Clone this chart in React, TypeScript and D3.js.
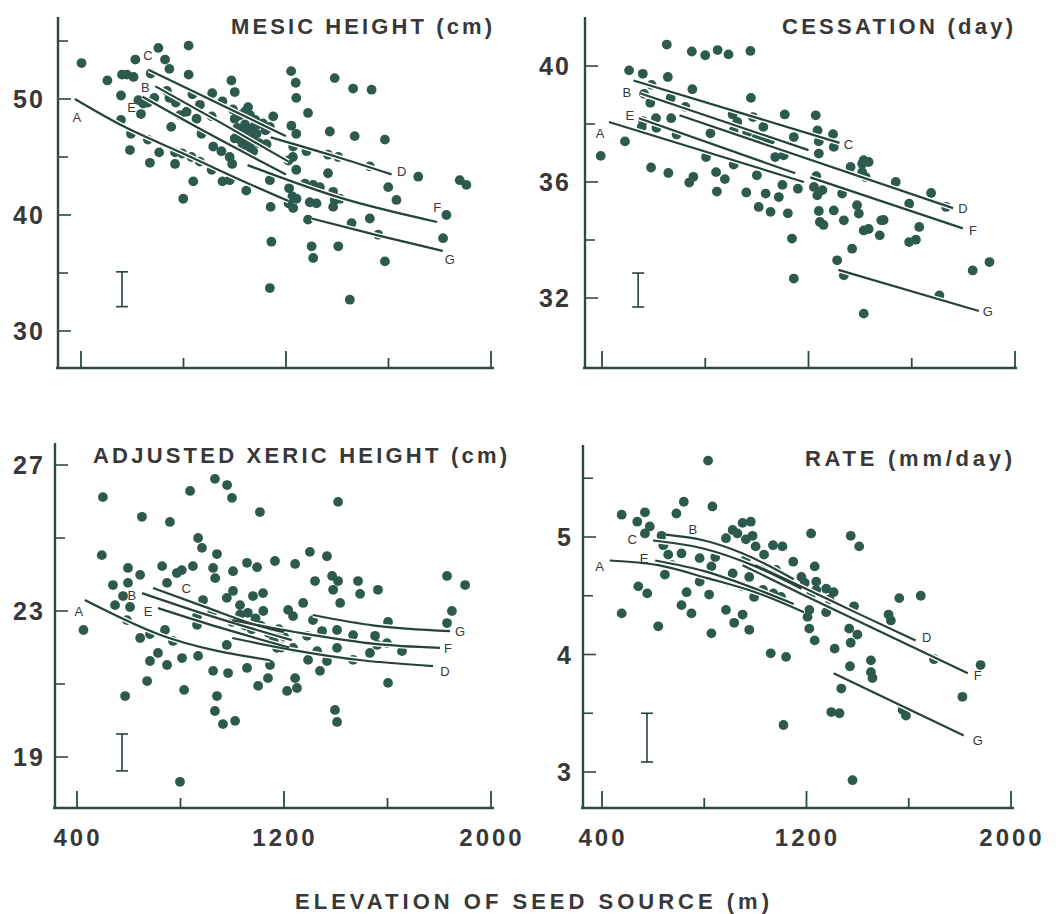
import React from 'react';
import * as d3 from 'd3';

// ---------- DATA ----------
const elevTicks = [400, 800, 1200, 1600, 2000];
const elevLabels = [400, 1200, 2000];
const xAxisTitle = 'ELEVATION OF SEED SOURCE  (m)';

type Pt = [number, number];
type Curve = { id: string; pts: Pt[] };

// Panel 1 : mesic height (cm)
const mesicTitle = 'MESIC HEIGHT (cm)';
const mesicMajor = [30, 40, 50];
const mesicMinor = [35, 45, 55];
const mesicDots: Pt[] = [
  [402,53.1],[503,51.6],[560,52.1],[579,52.1],[605,51.9],[612,53.4],[702,54.4],[728,53.4],[745,52.6],[820,54.6],
  [820,52.1],[672,52.2],[556,50.3],[624,49.9],[643,49.6],[686,50.1],[634,48.7],[661,49.7],[556,48.2],[595,47.0],
  [591,45.6],[669,44.5],[661,46.5],[705,45.4],[752,47.6],[735,50.7],[745,50.1],[770,49.7],[786,48.6],[812,48.9],
  [835,50.4],[851,48.3],[864,49.5],[870,47.0],[912,50.5],[910,48.5],[916,45.9],[952,49.8],[987,51.6],[1000,50.6],
  [993,49.1],[948,45.5],[980,45.0],[990,44.4],[767,44.4],[767,45.4],[795,45.3],[831,45.0],[864,44.6],[910,43.9],
  [799,41.4],[838,42.9],[952,42.9],[980,43.0],[1045,42.1],[1052,49.3],
  [1000,48.3],[1020,48.6],[1040,48.9],[1060,48.6],[1080,48.2],[1010,47.5],[1030,47.2],[1050,47.0],[1070,47.5],
  [1090,47.8],[1110,47.9],[1020,46.5],[1045,46.3],[1070,46.5],[1095,46.2],[1060,45.8],[1000,46.6],[1120,47.3],
  [1040,47.8],[1060,47.3],[1030,45.9],[1085,47.0],
  [1150,48.5],[1137,47.6],[1072,45.5],[1124,46.1],[1137,43.0],[1140,40.7],[1143,37.7],[1137,33.7],[1220,52.4],
  [1238,51.4],[1240,50.1],[1221,47.7],[1240,47.0],[1228,45.9],[1227,45.0],[1209,44.7],[1240,43.9],[1212,42.3],
  [1225,41.6],[1210,41.0],[1228,40.6],[1241,41.4],[1286,48.8],[1280,45.5],[1274,42.7],[1306,42.6],[1332,42.4],
  [1293,41.1],[1319,41.0],[1286,39.6],[1300,37.3],[1306,36.3],[1371,47.2],[1364,45.2],[1404,45.0],[1364,43.6],
  [1384,42.0],[1390,41.3],[1410,41.4],[1384,40.7],[1390,51.8],[1462,50.9],[1468,46.8],[1456,39.3],[1404,37.3],
  [1449,32.7],[1534,50.8],[1527,44.2],[1527,39.7],[1560,38.3],[1586,46.5],[1599,42.4],[1631,41.3],[1586,36.0],
  [1716,43.3],[1826,40.0],[1813,38.0],[1878,43.0],[1904,42.6],
];
const mesicCurves: Curve[] = [
  { id: 'A', pts: [[376,50.0],[552,47.8],[799,45.3],[994,43.3],[1210,41.2]] },
  { id: 'C', pts: [[665,52.5],[890,50.1],[1050,48.4],[1200,46.8]] },
  { id: 'B', pts: [[690,51.1],[950,47.9],[1210,44.6]] },
  { id: 'E', pts: [[640,50.2],[900,47.0],[1200,43.5]] },
  { id: 'D', pts: [[1140,46.7],[1400,45.0],[1612,43.5]] },
  { id: 'F', pts: [[1050,44.3],[1410,41.5],[1790,39.4]] },
  { id: 'G', pts: [[1300,39.7],[1566,38.2],[1812,36.9]] },
];
const mesicError = [560, 32.1, 35.1];

// Panel 2 : cessation (day)
const cessTitle = 'CESSATION (day)';
const cessMajor = [32, 36, 40];
const cessMinor = [34, 38];
const cessDots: Pt[] = [
  [395,36.9],[489,37.4],[505,39.85],[558,39.73],[592,39.35],[651,40.74],[655,39.62],[748,40.5],[800,40.37],[848,40.55],
  [890,40.4],[975,40.52],[750,39.2],[563,39.04],[587,38.73],[666,38.9],[723,38.59],[560,38.1],[609,38.2],[668,38.2],
  [554,37.9],[611,37.87],[689,37.64],[590,36.5],[657,36.31],[738,35.98],[754,36.18],[820,37.68],[803,36.86],[842,36.34],
  [876,36.1],[845,35.67],[906,38.33],[910,37.78],[924,38.07],[910,36.6],[959,35.64],[977,38.9],[985,38.24],[962,37.67],
  [1000,37.55],[1025,37.9],[1033,37.45],[1000,36.23],[1007,35.14],[1034,35.6],[1053,34.97],[1052,37.44],[1071,36.86],
  [1085,35.48],[1099,35.9],[1108,38.33],[1104,36.92],[1120,34.92],[1136,34.05],[1143,37.55],[1159,35.77],[1143,32.67],
  [1228,38.3],[1235,37.78],[1240,37.4],[1240,36.98],[1230,36.2],[1221,35.83],[1234,35.54],[1240,35.0],[1244,34.62],
  [1295,37.65],[1298,37.21],[1298,35.02],[1330,35.6],[1337,34.68],[1369,33.7],[1311,33.3],[1337,32.78],[1363,36.52],
  [1408,36.63],[1408,36.34],[1388,35.2],[1395,34.91],[1414,34.33],[1476,34.16],[1482,34.68],[1414,31.46],[1538,36.0],
  [1590,35.25],[1590,33.93],[1616,34.01],[1629,34.45],[1675,35.62],[1733,35.14],[1707,32.09],[1836,32.95],[1901,33.24],
  [1414,36.75],[1433,36.69],[1421,36.17],[1254,35.72],[1258,34.52],[1433,34.38],[1491,34.69],
];
const cessCurves: Curve[] = [
  { id: 'A', pts: [[427,38.07],[1182,36.0]] },
  { id: 'E', pts: [[543,38.2],[1149,36.3]] },
  { id: 'B', pts: [[550,39.05],[1200,37.1]] },
  { id: 'C', pts: [[522,39.5],[1320,37.35]] },
  { id: 'D', pts: [[700,38.3],[1760,35.1]] },
  { id: 'F', pts: [[1207,36.16],[1798,34.4]] },
  { id: 'G', pts: [[1316,32.97],[1860,31.55]] },
];
const cessError = [540, 31.69, 32.86];

// Panel 3 : adjusted xeric height (cm)
const xericTitle = 'ADJUSTED XERIC HEIGHT (cm)';
const xericMajor = [19, 23, 27];
const xericMinor = [21, 25];
const xericDots: Pt[] = [
  [425,22.48],[500,26.12],[651,25.58],[759,25.44],[837,26.29],[933,26.62],[980,26.45],[999,26.1],[1107,25.71],[1409,25.99],
  [868,25.0],[883,24.73],[496,24.53],[597,24.18],[644,23.99],[729,24.23],[748,23.77],[786,24.04],[805,24.12],[848,24.23],
  [941,24.56],[926,24.18],[934,23.9],[1003,24.09],[1057,24.32],[1096,24.2],[1165,24.37],[1243,24.29],[1300,24.62],[1366,24.5],
  [1320,23.82],[1386,23.96],[1409,23.82],[1390,23.58],[1417,23.22],[1486,23.82],[1494,23.47],[1563,23.58],[1830,23.96],[1900,23.71],
  [1849,23.0],[1830,22.67],[1602,22.7],[1602,21.03],[1397,20.29],[1405,19.96],[586,20.67],[671,21.08],[814,20.84],[941,20.67],
  [933,20.26],[964,19.9],[1011,19.99],[1100,20.95],[1212,20.81],[1250,20.89],[798,18.32],
  [539,23.71],[597,23.77],[578,23.41],[547,23.16],[605,23.11],[593,22.75],[644,22.26],[682,22.37],[713,21.85],[682,21.63],
  [748,21.52],[740,22.48],[771,22.18],[806,21.71],[868,21.77],[864,22.62],[864,22.86],[926,21.36],[984,21.3],[979,22.07],
  [1057,21.44],[1146,21.52],[1138,21.16],[1173,21.99],[1235,21.99],[1289,22.32],[1243,21.16],[1293,21.66],[1339,21.36],[1366,21.63],
  [1328,21.9],[1347,22.45],[1405,22.48],[1405,21.99],[1467,22.34],[1467,21.66],[1552,22.32],[1560,22.07],[1598,22.12],[1656,21.9],
  [1532,21.85],[1216,23.03],[1235,22.86],[1312,22.75],[1274,23.22],[1030,23.16],[1080,23.41],[1119,23.49],[979,23.36],[1003,23.55],
  [887,23.3],[922,22.95],
  [1030,22.9],[1060,22.95],[1090,22.8],[1110,22.6],[1050,22.6],[1075,22.5],[1120,23.0],[1000,22.7],[1140,22.4],[1180,22.5],
  [1200,22.3],[1160,22.2],[1190,22.0],
];
const xericCurves: Curve[] = [
  { id: 'A', pts: [[430,23.3],[720,22.35],[1146,21.65]] },
  { id: 'B', pts: [[651,23.49],[900,22.9],[1230,22.2]] },
  { id: 'C', pts: [[694,23.63],[900,23.1],[1100,22.6],[1200,22.42]] },
  { id: 'E', pts: [[713,23.08],[950,22.55],[1220,22.0]] },
  { id: 'D', pts: [[1000,22.26],[1235,21.93],[1500,21.65],[1776,21.49]] },
  { id: 'F', pts: [[1000,22.75],[1312,22.34],[1550,22.1],[1803,21.99]] },
  { id: 'G', pts: [[1312,22.89],[1550,22.6],[1842,22.45]] },
];
const xericError = [574, 18.62, 19.63];

// Panel 4 : rate (mm/day)
const rateTitle = 'RATE (mm/day)';
const rateMajor = [3, 4, 5];
const rateMinor = [3.5, 4.5, 5.5];
const rateDots: Pt[] = [
  [477,5.19],[477,4.35],[538,5.13],[568,5.21],[568,5.03],[587,5.09],[577,4.52],[542,4.58],[620,4.24],[633,5.01],
  [640,4.93],[659,4.85],[646,4.68],[691,5.20],[720,5.30],[711,4.86],[731,4.53],[711,4.42],[750,4.35],[782,4.82],
  [782,4.62],[819,4.51],[815,5.65],[832,5.26],[828,4.18],[828,4.75],[885,4.99],[911,5.06],[930,5.03],[950,5.12],
  [982,5.13],[989,5.01],[963,4.98],[885,4.38],[917,4.27],[950,4.34],[976,4.21],[891,4.62],[911,4.69],[950,4.58],
  [976,4.66],[1001,4.92],[1034,4.85],[963,4.81],[1030,4.72],[995,4.49],[1030,4.55],[1081,4.72],[1060,4.01],[1069,4.93],
  [1100,4.49],[1120,3.98],[1110,3.40],[1148,4.79],[1180,4.66],[1193,4.61],[1218,5.03],[1211,4.38],[1204,4.32],[1211,4.22],
  [1232,4.75],[1232,4.12],[1238,4.62],[1238,4.55],[1218,4.51],[1277,4.56],[1277,4.36],[1290,4.47],[1310,4.05],[1336,3.71],
  [1297,3.51],[1329,3.50],[1367,4.22],[1373,4.10],[1386,4.41],[1399,4.17],[1373,5.01],[1406,4.92],[1370,3.90],[1452,3.95],
  [1452,3.85],[1458,3.80],[1380,2.93],[1521,4.34],[1530,4.29],[1563,4.48],[1576,3.53],[1589,3.48],[1647,4.50],[1699,3.96],
  [1810,3.64],[1881,3.91],[843,4.83],[674,4.76],[1106,4.92],[1306,4.53],[1070,4.52],
];
const rateCurves: Curve[] = [
  { id: 'A', pts: [[430,4.80],[620,4.76],[812,4.65],[1000,4.53],[1190,4.36]] },
  { id: 'C', pts: [[600,4.97],[800,4.90],[1000,4.75],[1180,4.56]] },
  { id: 'B', pts: [[650,5.02],[800,4.97],[951,4.86],[1150,4.64]] },
  { id: 'E', pts: [[608,4.80],[800,4.71],[1000,4.56],[1150,4.43]] },
  { id: 'D', pts: [[1000,4.76],[1177,4.58],[1400,4.35],[1627,4.12]] },
  { id: 'F', pts: [[950,4.76],[1176,4.52],[1502,4.18],[1831,3.84]] },
  { id: 'G', pts: [[1306,3.84],[1815,3.31]] },
];
const rateError = [576, 3.085, 3.5];

// ---------- LAYOUT / STYLE ----------
type LabelSpec = Record<string, { at: 'start' | 'end'; dx: number; dy: number }>;
type Layout = {
  x0: number; x1: number; yDom: [number, number]; yRng: [number, number];
  axisX: number; top: number; bottom: number; right: number;
  yLabelX: number; showXLabels: boolean;
  title: { x: number; y: number; len: number };
  labels: LabelSpec;
};

const layouts: Record<string, Layout> = {
  mesic: {
    x0: 81, x1: 491, yDom: [30, 50], yRng: [331, 99], axisX: 58, top: 17, bottom: 368, right: 494,
    yLabelX: 28, showXLabels: false, title: { x: 231, y: 34, len: 261 },
    labels: { A: { at: 'start', dx: 2, dy: 18 }, C: { at: 'start', dx: -1, dy: -15 }, B: { at: 'start', dx: -10, dy: 1 },
      E: { at: 'start', dx: -11, dy: 10 }, D: { at: 'end', dx: 10, dy: -3 }, F: { at: 'end', dx: 0, dy: -15 }, G: { at: 'end', dx: 7, dy: 8 } },
  },
  cess: {
    x0: 602, x1: 1015, yDom: [32, 40], yRng: [298, 66], axisX: 585, top: 17, bottom: 368, right: 1017,
    yLabelX: 554, showXLabels: false, title: { x: 782, y: 34, len: 231 },
    labels: { A: { at: 'start', dx: -9, dy: 11 }, B: { at: 'start', dx: -14, dy: -2 }, E: { at: 'start', dx: -9, dy: -3 },
      C: { at: 'end', dx: 9, dy: 1 }, D: { at: 'end', dx: 10, dy: 0 }, F: { at: 'end', dx: 10, dy: 2 }, G: { at: 'end', dx: 9, dy: 0 } },
  },
  xeric: {
    x0: 77, x1: 491, yDom: [19, 27], yRng: [757, 465], axisX: 55, top: 443, bottom: 808, right: 494,
    yLabelX: 28, showXLabels: true, title: { x: 93, y: 463, len: 414 },
    labels: { A: { at: 'start', dx: -6, dy: 11 }, B: { at: 'start', dx: -10, dy: 2 }, C: { at: 'start', dx: 33, dy: 0 },
      E: { at: 'start', dx: -10, dy: 3 }, D: { at: 'end', dx: 12, dy: 5 }, F: { at: 'end', dx: 8, dy: 0 }, G: { at: 'end', dx: 10, dy: 0 } },
  },
  rate: {
    x0: 602, x1: 1011, yDom: [3, 5], yRng: [772, 537], axisX: 583, top: 445, bottom: 808, right: 1014,
    yLabelX: 564, showXLabels: true, title: { x: 805, y: 466, len: 207 },
    labels: { A: { at: 'start', dx: -10, dy: 5 }, C: { at: 'start', dx: -21, dy: -2 }, B: { at: 'start', dx: 27, dy: -6 },
      E: { at: 'start', dx: -11, dy: -3 }, D: { at: 'end', dx: 11, dy: -3 }, F: { at: 'end', dx: 10, dy: 2 }, G: { at: 'end', dx: 14, dy: 4 } },
  },
};

const DOT = '#2d5a4f';
const LINE = '#25433b';
const AXIS = '#2c4a43';
const TEXT = '#383838';
const FONT = '"Liberation Sans", Arial, sans-serif';

type PanelProps = {
  title: string; dots: Pt[]; curves: Curve[]; err: number[];
  major: number[]; minor: number[]; layout: Layout;
};

function Panel({ title, dots, curves, err, major, minor, layout: L }: PanelProps) {
  const x = d3.scaleLinear().domain([400, 2000]).range([L.x0, L.x1]);
  const y = d3.scaleLinear().domain(L.yDom).range(L.yRng);
  const line = d3.line<Pt>().x(d => x(d[0])).y(d => y(d[1])).curve(d3.curveMonotoneX);

  return (
    <g>
      {/* axes */}
      <line x1={L.axisX} x2={L.axisX} y1={L.top} y2={L.bottom + 1} stroke={AXIS} strokeWidth={2.4} />
      <line x1={L.axisX - 2} x2={L.right} y1={L.bottom} y2={L.bottom} stroke={AXIS} strokeWidth={2.4} />
      {elevTicks.map(t => {
        const big = elevLabels.includes(t);
        return <line key={t} x1={x(t)} x2={x(t)} y1={L.bottom} y2={L.bottom - (big ? 17 : 10)} stroke={AXIS} strokeWidth={1.8} />;
      })}
      {major.map(t => (
        <line key={'M' + t} x1={L.axisX} x2={L.axisX + 13} y1={y(t)} y2={y(t)} stroke={AXIS} strokeWidth={1.6} />
      ))}
      {minor.map(t => (
        <line key={'m' + t} x1={L.axisX} x2={L.axisX + 10} y1={y(t)} y2={y(t)} stroke={AXIS} strokeWidth={1.6} />
      ))}
      {major.map(t => (
        <text key={'l' + t} x={L.yLabelX + 1} y={y(t) + 9} textAnchor="middle" fontFamily={FONT} fontWeight="bold"
          fontSize={25} letterSpacing={2} fill={TEXT}>{t}</text>
      ))}
      {L.showXLabels && elevLabels.map(t => (
        <text key={'x' + t} x={x(t) + 1} y={L.bottom + 38} textAnchor="middle" fontFamily={FONT} fontWeight="bold"
          fontSize={24} letterSpacing={3} fill={TEXT}>{t}</text>
      ))}
      {/* dots */}
      {dots.map((d, i) => <circle key={'d' + i} cx={x(d[0])} cy={y(d[1])} r={4.9} fill={DOT} />)}
      {/* curves */}
      {curves.map(c => <path key={'h' + c.id} d={line(c.pts) || ''} fill="none" stroke="#fff" strokeWidth={5} />)}
      {curves.map(c => <path key={'c' + c.id} d={line(c.pts) || ''} fill="none" stroke={LINE} strokeWidth={2.2} />)}
      {curves.map(c => {
        const s = L.labels[c.id];
        const p = s.at === 'start' ? c.pts[0] : c.pts[c.pts.length - 1];
        return (
          <text key={'t' + c.id} x={x(p[0]) + s.dx} y={y(p[1]) + s.dy + 5} textAnchor="middle" fontFamily={FONT}
            fontSize={13} fill={TEXT}>{c.id}</text>
        );
      })}
      {/* error bar */}
      <g stroke={LINE} strokeWidth={1.6}>
        <line x1={x(err[0])} x2={x(err[0])} y1={y(err[1])} y2={y(err[2])} />
        <line x1={x(err[0]) - 6} x2={x(err[0]) + 6} y1={y(err[1])} y2={y(err[1])} />
        <line x1={x(err[0]) - 6} x2={x(err[0]) + 6} y1={y(err[2])} y2={y(err[2])} />
      </g>
      <text x={L.title.x} y={L.title.y} fontFamily={FONT} fontWeight="bold" fontSize={22} fill={TEXT}
        textLength={L.title.len} lengthAdjust="spacing">{title}</text>
    </g>
  );
}

export default function App() {
  return (
    <svg width={1063} height={914} viewBox="0 0 1063 914"
      style={{ position: 'absolute', left: 0, top: 0, background: '#fff' }}>
      <rect width={1063} height={914} fill="#fff" />
      <Panel title={mesicTitle} dots={mesicDots} curves={mesicCurves} err={mesicError} major={mesicMajor} minor={mesicMinor} layout={layouts.mesic} />
      <Panel title={cessTitle} dots={cessDots} curves={cessCurves} err={cessError} major={cessMajor} minor={cessMinor} layout={layouts.cess} />
      <Panel title={xericTitle} dots={xericDots} curves={xericCurves} err={xericError} major={xericMajor} minor={xericMinor} layout={layouts.xeric} />
      <Panel title={rateTitle} dots={rateDots} curves={rateCurves} err={rateError} major={rateMajor} minor={rateMinor} layout={layouts.rate} />
      <text x={532} y={909} textAnchor="middle" fontFamily={FONT} fontWeight="bold" fontSize={22} fill={TEXT}
        textLength={474} lengthAdjust="spacing">{xAxisTitle}</text>
    </svg>
  );
}
